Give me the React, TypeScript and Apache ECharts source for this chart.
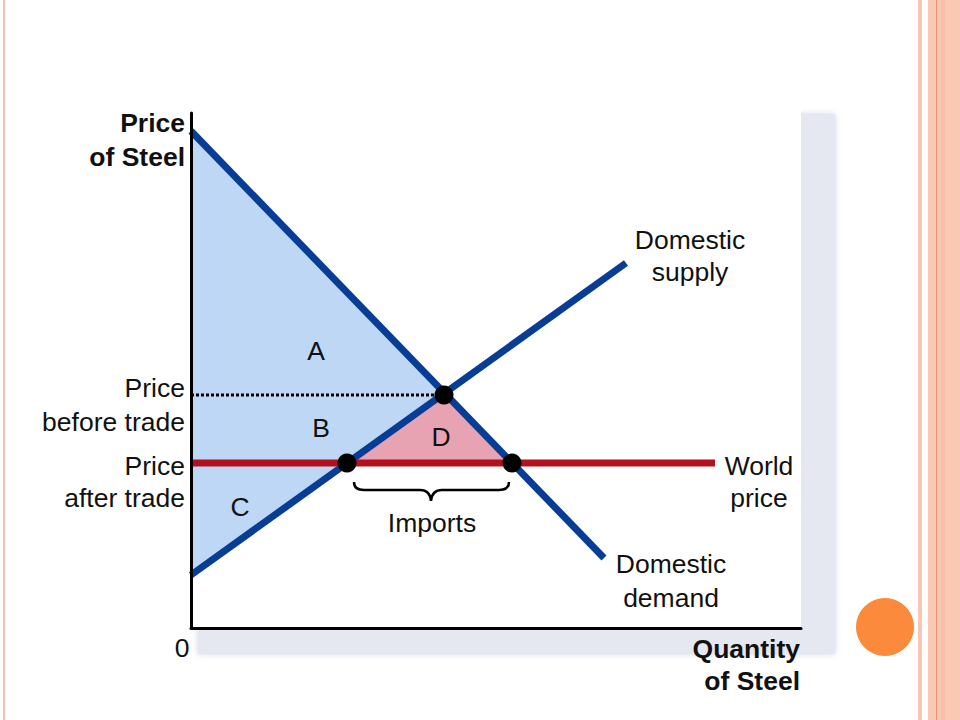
import React, { useEffect, useRef } from "react";
import * as echarts from "echarts";

// Data (quantity units on x, price units on y; origin at axes corner)
const demandLine: number[][] = [[0, 497], [413, 70]];
const supplyLine: number[][] = [[0, 53], [435, 365]];
const worldPriceLine: number[][] = [[0, 165], [524, 165]];
const priceBeforeTradeLine: number[][] = [[0, 233], [253, 233]];
const keyPoints: number[][] = [[156, 165], [253, 233], [321, 165]];
const surplusArea: number[][] = [[0, 497], [253, 233], [0, 53]];
const gainArea: number[][] = [[156, 165], [253, 233], [321, 165]];
const xMax = 610;
const yMax = 515;

const FONT = "Liberation Sans, Arial, sans-serif";

function txt(text: string, x: number, y: number, align: string = "center", bold = false) {
  return {
    type: "text",
    z: 100,
    x,
    y,
    style: {
      text,
      fill: "#111",
      fontSize: 26.5,
      fontWeight: bold ? "bold" : "normal",
      fontFamily: FONT,
      textAlign: align,
      align,
      textVerticalAlign: "middle",
      verticalAlign: "middle",
    },
  };
}

const bracePath =
  "M354,482 Q354,490 364,490 L420,490 Q430,490 431,501 Q432,490 442,490 L499,490 Q509,490 509,482";

let registered = false;

export default function App() {
  const ref = useRef<HTMLDivElement>(null);
  useEffect(() => {
    if (!ref.current) return;
    if (!registered) {
      echarts.graphic.registerShape("brace", echarts.graphic.extendPath(bracePath, {}));
      registered = true;
    }
    const chart = echarts.init(ref.current, undefined, { renderer: "svg" });
    const polygonSeries = (pts: number[][], fill: string) => ({
      type: "custom",
      z: 1,
      silent: true,
      data: pts,
      renderItem: (params: any, api: any) => {
        if (params.dataIndex !== 0) return null;
        return {
          type: "polygon",
          shape: { points: pts.map((p) => api.coord(p)) },
          style: { fill },
        };
      },
    });
    chart.setOption({
      animation: false,
      backgroundColor: "#ffffff",
      grid: { left: 191, right: 159, top: 113, bottom: 92, containLabel: false },
      xAxis: {
        type: "value",
        min: 0,
        max: xMax,
        z: 6,
        axisLine: { show: true, onZero: false, lineStyle: { color: "#000", width: 3 } },
        axisTick: { show: false },
        axisLabel: { show: false },
        splitLine: { show: false },
      },
      yAxis: {
        type: "value",
        min: 0,
        max: yMax,
        z: 6,
        axisLine: { show: true, onZero: false, lineStyle: { color: "#000", width: 3 } },
        axisTick: { show: false },
        axisLabel: { show: false },
        splitLine: { show: false },
      },
      series: [
        polygonSeries(surplusArea, "#bdd7f5"),
        polygonSeries(gainArea, "#e8a3b2"),
        {
          type: "line",
          z: 2,
          data: priceBeforeTradeLine,
          symbol: "none",
          lineStyle: { color: "#000", width: 3, type: [3, 2] },
        },
        {
          type: "line",
          z: 3,
          data: demandLine,
          symbol: "none",
          lineStyle: { color: "#083d96", width: 7 },
        },
        {
          type: "line",
          z: 3,
          data: supplyLine,
          symbol: "none",
          lineStyle: { color: "#083d96", width: 7 },
        },
        {
          type: "line",
          z: 4,
          data: worldPriceLine,
          symbol: "none",
          lineStyle: { color: "#b2111f", width: 7 },
        },
        {
          type: "scatter",
          z: 5,
          data: keyPoints,
          symbol: "circle",
          symbolSize: 19,
          itemStyle: { color: "#000", opacity: 1 },
        },
      ],
      graphic: [
        // shadow and plot background
        { type: "rect", z: -30, shape: { x: 198, y: 114, width: 637, height: 540 }, style: { fill: "#e5e8f0", shadowBlur: 6, shadowColor: "rgba(200,205,220,0.8)" } },
        { type: "rect", z: -29, shape: { x: 0, y: 0, width: 801, height: 628 }, style: { fill: "#ffffff" } },
        // slide decorations
        { type: "rect", z: -28, shape: { x: 3, y: 0, width: 2, height: 720 }, style: { fill: "#f5c2b0" } },
        { type: "rect", z: -28, shape: { x: 918, y: 0, width: 4, height: 720 }, style: { fill: "#f9c6b3" } },
        { type: "rect", z: -28, shape: { x: 928, y: 0, width: 32, height: 720 }, style: { fill: "#fbc8b4" } },
        { type: "rect", z: -27, shape: { x: 936, y: 0, width: 1, height: 720 }, style: { fill: "#ee9474" } },
        { type: "rect", z: -27, shape: { x: 941, y: 0, width: 4, height: 720 }, style: { fill: "#f8c0aa" } },
        { type: "circle", z: -27, shape: { cx: 885, cy: 627, r: 29 }, style: { fill: "#fc8a3c" } },
        // brace
        { type: "brace", z: 50, x: 0, y: 0, style: { fill: "none", stroke: "#000", lineWidth: 2.5 } },
        // texts
        txt("Price", 185, 123, "right", true),
        txt("of Steel", 185, 157, "right", true),
        txt("Quantity", 800, 649, "right", true),
        txt("of Steel", 800, 681, "right", true),
        txt("0", 182, 648, "center"),
        txt("Price", 185, 388, "right"),
        txt("before trade", 185, 422, "right"),
        txt("Price", 185, 466, "right"),
        txt("after trade", 185, 498, "right"),
        txt("Domestic", 690, 240),
        txt("supply", 690, 272),
        txt("World", 759, 466),
        txt("price", 759, 498),
        txt("Domestic", 671, 564),
        txt("demand", 671, 598),
        txt("A", 316, 351),
        txt("B", 321, 428),
        txt("D", 441, 437),
        txt("C", 240, 507),
        txt("Imports", 432, 523),
      ],
    });
    return () => chart.dispose();
  }, []);
  return (
    <div
      ref={ref}
      style={{ position: "fixed", left: 0, top: 0, width: 960, height: 720, background: "#fff" }}
    />
  );
}
